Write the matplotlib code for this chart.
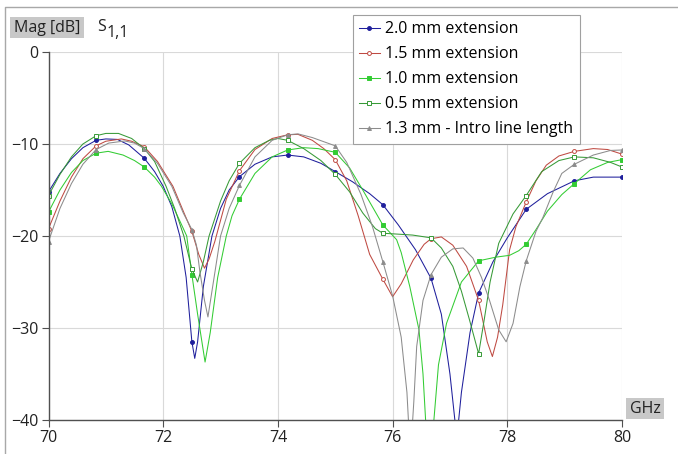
import matplotlib
matplotlib.use("Agg")
import matplotlib.pyplot as plt
from matplotlib.lines import Line2D
from matplotlib.patches import Rectangle
import numpy as np

plt.rcParams['font.family'] = ['Open Sans', 'DejaVu Sans']

# frequency points where the markers sit (every 10/12 GHz)
marker_freqs = np.round(70 + np.arange(13) * 10 / 12, 2)

labels = ['2.0 mm extension', '1.5 mm extension', '1.0 mm extension',
          '0.5 mm extension', '1.3 mm - Intro line length']

# 2.0 mm extension (blue)
f_20 = [70.0, 70.2, 70.4, 70.6, 70.83, 71.0, 71.2, 71.4, 71.67, 71.85, 72.0, 72.15,
        72.29, 72.4, 72.5, 72.55, 72.6, 72.7, 72.85, 73.0, 73.15, 73.33, 73.6, 73.9,
        74.17, 74.45, 74.75, 75.0, 75.3, 75.6, 75.83, 76.1, 76.4, 76.67, 76.85, 77.0,
        77.12, 77.2, 77.35, 77.5, 77.75, 78.0, 78.33, 78.7, 79.17, 79.5, 80.0]
s_20 = [-15.2, -13.2, -11.6, -10.4, -9.6, -9.45, -9.5, -10.1, -11.55, -13.0, -14.6, -16.8,
        -20.0, -24.5, -31.5, -33.3, -31.5, -25.5, -20.0, -17.0, -15.0, -13.55, -12.2, -11.4,
        -11.2, -11.4, -12.1, -13.0, -14.1, -15.4, -16.6, -18.8, -21.5, -24.6, -28.5, -35.0,
        -42.0, -37.0, -30.5, -26.2, -22.8, -20.2, -17.1, -15.4, -14.0, -13.6, -13.6]

# 1.5 mm extension (red)
f_15 = [70.0, 70.2, 70.4, 70.6, 70.83, 71.0, 71.27, 71.45, 71.67, 71.9, 72.05, 72.17,
        72.35, 72.5, 72.62, 72.72, 72.8, 72.9, 73.1, 73.33, 73.6, 73.9, 74.17, 74.35,
        74.6, 74.8, 75.0, 75.2, 75.4, 75.6, 75.83, 76.0, 76.15, 76.36, 76.55, 76.67,
        76.85, 77.05, 77.29, 77.5, 77.65, 77.74, 77.83, 77.92, 78.04, 78.15, 78.33,
        78.5, 78.68, 78.9, 79.17, 79.5, 79.75, 80.0]
s_15 = [-19.2, -16.2, -13.6, -11.6, -10.2, -9.7, -9.45, -9.7, -10.3, -11.9, -13.4, -14.6,
        -17.3, -19.5, -22.0, -23.5, -22.5, -20.6, -16.0, -12.9, -10.6, -9.4, -9.0, -8.95,
        -9.6, -10.5, -11.7, -14.0, -17.8, -22.0, -24.7, -26.6, -25.2, -22.6, -20.9, -20.3,
        -20.1, -21.0, -23.3, -27.0, -31.5, -33.1, -31.0, -27.5, -21.5, -19.0, -16.3,
        -14.0, -12.3, -11.3, -10.8, -10.5, -10.6, -11.1]

# 1.0 mm extension (bright green)
f_10 = [70.0, 70.2, 70.4, 70.6, 70.83, 71.04, 71.3, 71.5, 71.67, 71.85, 71.97, 72.15,
        72.3, 72.41, 72.5, 72.6, 72.73, 72.82, 72.95, 73.1, 73.2, 73.33, 73.6, 73.9,
        74.17, 74.45, 74.7, 75.0, 75.25, 75.48, 75.83, 76.07, 76.15, 76.3, 76.46, 76.53,
        76.63, 76.72, 76.8, 76.94, 77.2, 77.5, 77.8, 78.04, 78.2, 78.33, 78.5, 78.7,
        78.95, 79.17, 79.45, 79.75, 80.0]
s_10 = [-17.4, -15.0, -13.1, -11.8, -11.0, -10.8, -11.2, -11.8, -12.5, -13.6, -14.6, -16.5,
        -18.5, -20.0, -24.2, -28.5, -33.7, -30.5, -24.5, -20.0, -17.8, -16.0, -13.2, -11.4,
        -10.65, -10.4, -10.5, -10.9, -12.6, -15.0, -18.8, -20.4, -21.8, -25.5, -30.2, -35.0,
        -46.0, -40.0, -34.0, -29.5, -25.0, -22.7, -22.3, -22.1, -21.6, -20.9, -19.3, -17.3,
        -15.5, -14.3, -12.8, -12.0, -11.7]

# 0.5 mm extension (dark green)
f_05 = [70.0, 70.2, 70.4, 70.6, 70.83, 71.0, 71.22, 71.45, 71.67, 71.85, 72.05, 72.2,
        72.36, 72.5, 72.6, 72.7, 72.8, 73.0, 73.15, 73.33, 73.6, 73.85, 74.0, 74.17,
        74.45, 74.75, 75.0, 75.25, 75.48, 75.7, 75.83, 76.1, 76.35, 76.67, 76.85, 77.05,
        77.2, 77.34, 77.5, 77.6, 77.7, 77.85, 78.1, 78.33, 78.6, 78.9, 79.17, 79.5,
        79.8, 80.0]
s_05 = [-15.6, -13.3, -11.4, -10.0, -9.1, -8.85, -8.85, -9.4, -10.5, -11.9, -14.6, -17.0,
        -20.0, -23.6, -25.0, -22.8, -20.0, -16.2, -14.0, -12.1, -10.4, -9.6, -9.4, -9.6,
        -10.5, -11.8, -13.3, -15.2, -17.5, -19.2, -19.7, -19.8, -19.9, -20.2, -21.3, -23.3,
        -26.0, -29.1, -32.8, -29.0, -25.0, -20.8, -17.6, -15.6, -13.0, -11.8, -11.4, -11.5,
        -12.0, -12.5]

# 1.3 mm - intro line length (gray)
f_13 = [70.0, 70.2, 70.4, 70.6, 70.83, 71.05, 71.33, 71.5, 71.67, 71.9, 72.15, 72.35,
        72.5, 72.58, 72.64, 72.72, 72.78, 72.85, 73.0, 73.15, 73.33, 73.6, 73.9, 74.17,
        74.35, 74.6, 75.0, 75.2, 75.45, 75.65, 75.83, 76.0, 76.15, 76.25, 76.31, 76.37,
        76.42, 76.53, 76.67, 76.85, 77.05, 77.23, 77.4, 77.55, 77.69, 77.85, 77.98, 78.1,
        78.22, 78.33, 78.5, 78.62, 78.8, 78.95, 79.17, 79.5, 79.8, 80.0]
s_13 = [-20.6, -17.0, -14.3, -12.2, -10.6, -9.9, -9.67, -9.9, -10.5, -12.1, -14.6, -17.5,
        -19.3, -21.0, -23.9, -27.0, -28.8, -26.0, -20.0, -17.0, -14.5, -11.4, -9.6, -9.0,
        -8.9, -9.3, -10.2, -12.0, -15.5, -19.0, -22.8, -26.5, -31.0, -37.0, -44.0, -38.0,
        -32.0, -27.0, -24.2, -22.3, -21.4, -21.3, -22.4, -24.5, -27.0, -30.2, -31.5, -29.5,
        -25.5, -22.7, -19.5, -18.0, -15.2, -13.2, -12.2, -11.2, -10.7, -10.65]

series = [(f_20, s_20), (f_15, s_15), (f_10, s_10), (f_05, s_05), (f_13, s_13)]
colors = ['#1f1f9c', '#bf4a42', '#33cc33', '#379a37', '#8c8c8c']
markers = ['o', 'o', 's', 's', '^']
mfaces = ['#1f1f9c', 'white', '#33cc33', 'white', '#8c8c8c']

W, H = 678, 454
fig = plt.figure(figsize=(W / 100, H / 100), dpi=100)
ax = fig.add_axes([48.5 / W, 1 - 420 / H, (622 - 48.5) / W, (420 - 52) / H])

handles = []
for (fr, vals), c, m, mf, lab in zip(series, colors, markers, mfaces, labels):
    fr = np.array(fr)
    idx = [i for i, f in enumerate(fr) if np.any(np.isclose(f, marker_freqs))]
    ax.plot(fr, vals, color=c, lw=0.75, marker=m, markersize=2.8, markevery=idx,
            markerfacecolor=mf, markeredgecolor=c, markeredgewidth=0.7)
    handles.append(Line2D([], [], color=c, lw=0.75, marker=m, markersize=2.8,
                          markerfacecolor=mf, markeredgecolor=c, markeredgewidth=0.7))

ax.set_xlim(70, 80)
ax.set_ylim(-40, 0)
ax.set_xticks(range(70, 81, 2))
ax.set_yticks(range(-40, 1, 10))
ax.grid(True, color='#d9d9d9', lw=0.8)
ax.set_axisbelow(True)
for side in ['top', 'right']:
    ax.spines[side].set_visible(False)
for side in ['left', 'bottom']:
    ax.spines[side].set_color('#505050')
    ax.spines[side].set_linewidth(1.0)
ax.tick_params(length=5, width=0.8, color='#505050', labelsize=11.5, pad=2,
               labelcolor='#222222')

leg = fig.legend(handles, labels, loc='upper left',
                 bbox_to_anchor=(352.7 / W, 1 - 15 / H), borderaxespad=0,
                 fancybox=False, edgecolor='#a0a0a0', framealpha=1,
                 fontsize=11.5, handlelength=1.3, handletextpad=0.35,
                 labelspacing=0.56, borderpad=0.4)
leg.get_frame().set_linewidth(0.8)

# outer window frame
fig.add_artist(Line2D([5 / W, 5 / W, 1], [0, 1 - 7 / H, 1 - 7 / H],
                      color='#a8a8a8', lw=1.0))

# axis caption boxes
fig.add_artist(Rectangle((10 / W, 1 - 38 / H), 74 / W, 21 / H,
                         facecolor='#c8c8c8', edgecolor='none'))
fig.text(47 / W, 1 - 27.5 / H, 'Mag [dB]', ha='center', va='center',
         fontsize=11.5, color='#222222')
fig.text(97 / W, 1 - 27 / H, 'S', ha='left', va='center', fontsize=11.5, color='#222222')
fig.text(107 / W, 1 - 33 / H, '1,1', ha='left', va='center', fontsize=11.5, color='#222222')

fig.add_artist(Rectangle((626 / W, 1 - 419 / H), 38 / W, 21 / H,
                         facecolor='#c8c8c8', edgecolor='none'))
fig.text(645 / W, 1 - 409 / H, 'GHz', ha='center', va='center',
         fontsize=11.5, color='#222222')

fig.savefig('out.png', dpi=100)
